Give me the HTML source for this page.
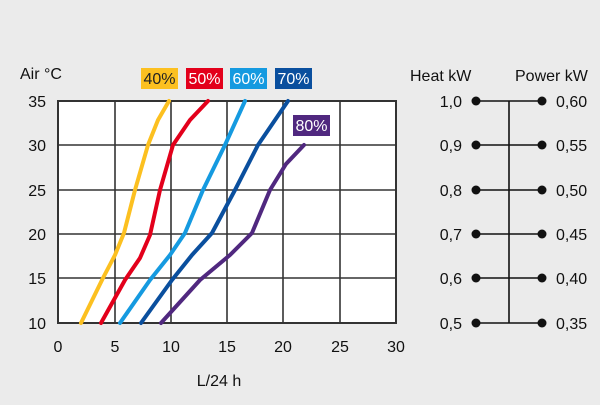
<!DOCTYPE html><html><head><style>body{margin:0;background:#ebebeb}</style></head><body>
<svg width="600" height="400" xmlns="http://www.w3.org/2000/svg" font-family="Liberation Sans, sans-serif">
<rect width="600" height="400" fill="#ebebeb"/>
<rect x="58" y="101" width="338" height="222" fill="#fff" stroke="#333" stroke-width="2"/>
<g stroke="#333" stroke-width="1.6">
<line x1="115" y1="101" x2="115" y2="323"/><line x1="171" y1="101" x2="171" y2="323"/><line x1="227" y1="101" x2="227" y2="323"/><line x1="283" y1="101" x2="283" y2="323"/><line x1="340" y1="101" x2="340" y2="323"/>
<line x1="58" y1="145" x2="396" y2="145"/><line x1="58" y1="190" x2="396" y2="190"/><line x1="58" y1="234" x2="396" y2="234"/><line x1="58" y1="278" x2="396" y2="278"/>
</g>
<g fill="none" stroke-width="4" stroke-linecap="round" stroke-linejoin="round">
<polyline stroke="#fcc020" points="81,323 103,278 115,255 124,233 135,190 148,145 158,120 169,101"/>
<polyline stroke="#e3001b" points="101,323 125,280 140,258 150,235 160,190 173,145 190,120 208,101"/>
<polyline stroke="#159ae0" points="120,323 150,280 170,255 185,233 203,190 225,145 245,101"/>
<polyline stroke="#0a4f9e" points="141,323 172,280 192,255 212,233 235,190 258,145 288,101"/>
<polyline stroke="#50287f" points="161,323 200,280 230,255 252,233 270,190 286,164 304,145"/>
</g>
<g font-size="16" fill="#fff" text-anchor="middle">
<rect x="141" y="68" width="37" height="21" fill="#fcc020"/><text x="159.5" y="84" fill="#222">40%</text>
<rect x="186" y="68" width="37" height="21" fill="#e3001b"/><text x="204.5" y="84">50%</text>
<rect x="230" y="68" width="37" height="21" fill="#159ae0"/><text x="248.5" y="84">60%</text>
<rect x="275" y="68" width="37" height="21" fill="#0a4f9e"/><text x="293.5" y="84">70%</text>
<rect x="293" y="115" width="37" height="21" fill="#50287f"/><text x="311.5" y="131">80%</text>
</g>
<g font-size="16" fill="#111">
<text x="20" y="79">Air °C</text>
<g text-anchor="end"><text x="46" y="107">35</text><text x="46" y="151">30</text><text x="46" y="196">25</text><text x="46" y="240">20</text><text x="46" y="284">15</text><text x="46" y="329">10</text></g>
<g text-anchor="middle"><text x="58" y="352">0</text><text x="115" y="352">5</text><text x="171" y="352">10</text><text x="227" y="352">15</text><text x="283" y="352">20</text><text x="340" y="352">25</text><text x="396" y="352">30</text><text x="219" y="386">L/24 h</text></g>
<text x="410" y="81">Heat kW</text><text x="515" y="81">Power kW</text>
<g text-anchor="end"><text x="462" y="107">1,0</text><text x="462" y="151">0,9</text><text x="462" y="196">0,8</text><text x="462" y="240">0,7</text><text x="462" y="284">0,6</text><text x="462" y="329">0,5</text></g>
<text x="556" y="107">0,60</text><text x="556" y="151">0,55</text><text x="556" y="196">0,50</text><text x="556" y="240">0,45</text><text x="556" y="284">0,40</text><text x="556" y="329">0,35</text>
</g>
<g stroke="#111" stroke-width="1.6">
<line x1="509" y1="101" x2="509" y2="323"/>
<line x1="476" y1="101" x2="542" y2="101"/><line x1="476" y1="145" x2="542" y2="145"/><line x1="476" y1="190" x2="542" y2="190"/><line x1="476" y1="234" x2="542" y2="234"/><line x1="476" y1="278" x2="542" y2="278"/><line x1="476" y1="323" x2="542" y2="323"/>
</g>
<g fill="#111">
<circle cx="476" cy="101" r="4.5"/><circle cx="476" cy="145" r="4.5"/><circle cx="476" cy="190" r="4.5"/><circle cx="476" cy="234" r="4.5"/><circle cx="476" cy="278" r="4.5"/><circle cx="476" cy="323" r="4.5"/>
<circle cx="542" cy="101" r="4.5"/><circle cx="542" cy="145" r="4.5"/><circle cx="542" cy="190" r="4.5"/><circle cx="542" cy="234" r="4.5"/><circle cx="542" cy="278" r="4.5"/><circle cx="542" cy="323" r="4.5"/>
</g>
</svg>
</body></html>
